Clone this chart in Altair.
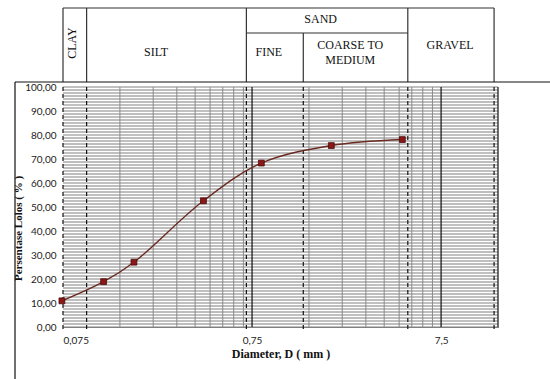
import altair as alt
import pandas as pd

# ---- data ----
diameter = [0.074, 0.123, 0.178, 0.415, 0.84, 1.97, 4.68]
passing = [10.9, 18.9, 27.0, 52.6, 68.3, 75.6, 78.1]

x_tick_values = [0.075, 0.75, 7.5]
y_tick_values = [0, 10, 20, 30, 40, 50, 60, 70, 80, 90, 100]
minor_x_grid = [0.15, 0.225, 0.3, 0.375, 0.45, 0.525, 0.6, 0.675,
                1.5, 2.25, 3.0, 3.75, 4.5, 5.25, 6.0, 6.75]
major_x_grid = [0.75, 7.5]
plot_right = [15]
y_grid_light = [i * 2.5 for i in range(41)]
y_grid_dark = [i * 2.5 + 1.25 for i in range(40)]

boundaries = [0.075, 0.1, 0.7, 1.4, 5.0, 14.3]
header_line_top = [-79, -79, -79, -54, -79, -79]

zone_labels = ["CLAY", "SILT", "FINE", "COARSE TO", "MEDIUM", "GRAVEL", "SAND"]
zone_label_x = [0.0842, 0.233, 0.92, 2.48, 2.48, 8.37, 1.73]
zone_label_y = [-44, -35, -35, -42, -27, -42, -68]
zone_label_angle = [270, 0, 0, 0, 0, 0, 0]

# ---- tables ----
curve = pd.DataFrame({"d": diameter, "p": passing})
xs = alt.Scale(type="log", domain=[0.075, 15], nice=False)
ys = alt.Scale(domain=[0, 100], nice=False)

W, H = 435, 240

x_axis = alt.Axis(values=x_tick_values, grid=False, ticks=False,
                  domainColor="#000", domainWidth=1.2,
                  labelExpr="replace('' + datum.value, '.', ',')",
                  labelPadding=8, title="Diameter, D ( mm )",
                  titleFontSize=12, titlePadding=3)
y_axis = alt.Axis(values=y_tick_values, grid=False, ticks=False, domain=False,
                  labelOverlap=False,
                  labelExpr="replace(format(datum.value, '.2f'), '.', ',')",
                  labelPadding=7, title="Persentase Lolos ( % )",
                  titleX=-40, titleY=141)


def X(field):
    return alt.X(field, scale=xs, axis=x_axis)


def Y(field):
    return alt.Y(field, scale=ys, axis=y_axis)


h_light = alt.Chart(pd.DataFrame({"y": y_grid_light})).mark_rule(
    color="#ababab", strokeWidth=1.4).encode(
    y=Y("y:Q"), x=alt.value(0), x2=alt.value(W))

h_dark = alt.Chart(pd.DataFrame({"y": y_grid_dark})).mark_rule(
    color="#5a5a5a", strokeWidth=0.8).encode(
    y=Y("y:Q"), x=alt.value(0), x2=alt.value(W))

minor_v = alt.Chart(pd.DataFrame({"x": minor_x_grid})).mark_rule(
    color="#8a8a8a", strokeWidth=1).encode(
    x=X("x:Q"), y=alt.value(0), y2=alt.value(H))

major_v = alt.Chart(pd.DataFrame({"x": major_x_grid + plot_right})).mark_rule(
    color="#111", strokeWidth=1.2).encode(
    x=X("x:Q"), y=alt.value(0), y2=alt.value(H))

dashed = alt.Chart(pd.DataFrame({"x": boundaries})).mark_rule(
    color="#111", strokeWidth=1.2, strokeDash=[4, 3]).encode(
    x=X("x:Q"), y=alt.value(0), y2=alt.value(H + 4))

header_v = alt.Chart(pd.DataFrame({"x": boundaries, "t": header_line_top})).mark_rule(
    color="#333", strokeWidth=1.2).encode(
    x=X("x:Q"),
    y=alt.Y("t:Q", scale=None, axis=None), y2=alt.value(-5))

header_h = alt.Chart(pd.DataFrame({
    "x1": [boundaries[0], boundaries[2]],
    "x2": [boundaries[-1], boundaries[4]],
    "t": [-79, -54]})).mark_rule(color="#333", strokeWidth=1.2).encode(
    x=X("x1:Q"), x2="x2:Q",
    y=alt.Y("t:Q", scale=None, axis=None))

frame = alt.Chart(pd.DataFrame({"k": [0]})).mark_rule(color="#111", strokeWidth=1.2).encode(
    x=alt.value(-48), x2=alt.value(550 - 63), y=alt.value(-5))
frame_left = alt.Chart(pd.DataFrame({"k": [0]})).mark_rule(color="#111", strokeWidth=1.2).encode(
    x=alt.value(-48), y=alt.value(-5), y2=alt.value(379 - 87))

labels = alt.Chart(pd.DataFrame({
    "label": zone_labels, "x": zone_label_x, "y": zone_label_y, "a": zone_label_angle
})).mark_text(font="Liberation Serif", fontSize=12, color="#111",
              align="center", baseline="middle").encode(
    x=X("x:Q"),
    y=alt.Y("y:Q", scale=None, axis=None),
    angle=alt.Angle("a:Q", scale=None),
    text="label:N")

line = alt.Chart(curve).mark_line(
    color="#6b2a22", strokeWidth=1.4, interpolate="catmull-rom").encode(
    x=X("d:Q"), y=Y("p:Q"))

points = alt.Chart(curve).mark_point(
    shape="square", filled=True, size=34, color="#8b1717",
    stroke="#4a0c0c", strokeWidth=0.8, opacity=1).encode(
    x=X("d:Q"), y=Y("p:Q"))

chart = alt.layer(
    h_light, h_dark, minor_v, major_v, dashed, header_v, header_h,
    frame, frame_left, labels, line, points
).properties(
    width=W, height=H,
    autosize=alt.AutoSizeParams(type="none"),
    padding={"left": 63, "top": 87, "right": 52, "bottom": 52},
    background="white",
).configure_view(stroke=None).configure_axis(
    labelFont="Lato", labelFontSize=10, labelColor="#222",
    titleFont="Liberation Serif", titleFontSize=11, titleFontWeight="bold",
    titleColor="#111",
)

chart.save("out.html", embed_options={"renderer": "svg", "actions": False})
